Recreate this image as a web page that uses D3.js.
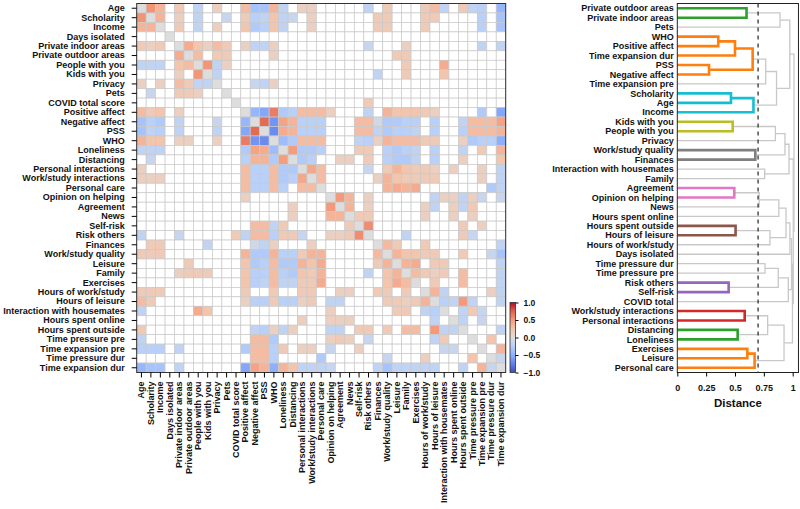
<!DOCTYPE html>
<html lang="en">

<head>
    <meta charset="UTF-8">
    <title>Correlation heatmap and dendrogram</title>
    <script src="https://d3js.org/d3.v7.min.js"></script>
    <style>
        body {
            margin: 0;
            background: #ffffff;
        }

        svg text {
            font-family: "Liberation Sans", Arial, sans-serif;
            font-weight: bold;
            fill: #111111;
        }
    </style>
</head>

<body>
    <div id="chart"></div>
    <script>
        // variables, in heatmap order
        const variables = ["Age", "Scholarity", "Income", "Days isolated", "Private indoor areas",
            "Private outdoor areas", "People with you", "Kids with you", "Privacy", "Pets",
            "COVID total score", "Positive affect", "Negative affect", "PSS", "WHO", "Loneliness",
            "Distancing", "Personal interactions", "Work/study interactions", "Personal care",
            "Opinion on helping", "Agreement", "News", "Self-risk", "Risk others", "Finances",
            "Work/study quality", "Leisure", "Family", "Exercises", "Hours of work/study",
            "Hours of leisure", "Interaction with housemates", "Hours spent online",
            "Hours spent outside", "Time pressure pre", "Time expansion pre", "Time pressure dur",
            "Time expansion dur"];

        // significant correlations (upper triangle, i < j), everything else is blank
        const corrPairs = [
            [0, 1, .53], [0, 2, .35], [0, 4, .2], [0, 6, -.2], [0, 8, .15], [0, 11, .3], [0, 12, -.35], [0, 13, -.35],
            [0, 14, .35], [0, 15, -.2], [0, 17, .15], [0, 18, .15], [0, 24, -.2], [0, 26, .2], [0, 30, .2], [0, 31, .3],
            [0, 32, -.2], [0, 34, .2], [0, 35, -.2], [0, 36, -.25], [0, 38, -.45],
            [1, 2, .35], [1, 4, .15], [1, 6, -.2], [1, 9, -.15], [1, 11, .2], [1, 12, -.25], [1, 13, -.2], [1, 14, .25],
            [1, 15, -.2], [1, 16, -.15], [1, 18, .15], [1, 25, .2], [1, 26, .2], [1, 30, .2], [1, 31, .2], [1, 36, -.25],
            [1, 38, -.35],
            [2, 4, .2], [2, 6, -.2], [2, 8, .15], [2, 11, .25], [2, 12, -.3], [2, 13, -.25], [2, 14, .25], [2, 15, -.2],
            [2, 18, .15], [2, 25, .2], [2, 26, .2], [2, 30, .2], [2, 36, -.25], [2, 38, -.35],
            [4, 5, .4], [4, 6, .25], [4, 7, .15], [4, 8, .3], [4, 9, .2], [4, 11, .15], [4, 12, -.2], [4, 13, -.2],
            [4, 14, .15], [4, 24, -.15], [4, 28, .15], [4, 36, -.2], [4, 38, -.2],
            [5, 6, .3], [5, 8, .2], [5, 9, .2], [5, 14, .15], [5, 27, .2], [5, 28, .2],
            [6, 7, .52], [6, 8, -.2], [6, 9, .15], [6, 28, .2], [6, 32, .4],
            [7, 8, -.2], [7, 25, -.2], [7, 28, .2], [7, 32, .25],
            [8, 12, -.15], [8, 13, -.2], [8, 14, .15],
            [10, 24, .2],
            [11, 12, -.45], [11, 13, -.55], [11, 14, .64], [11, 15, -.3], [11, 16, -.25], [11, 17, .3], [11, 18, .3],
            [11, 19, .3], [11, 20, .15], [11, 24, -.2], [11, 26, .35], [11, 27, .25], [11, 28, .25], [11, 29, .25],
            [11, 30, .2], [11, 31, .15], [11, 36, -.3], [11, 38, -.55],
            [12, 13, .72], [12, 14, -.65], [12, 15, .45], [12, 16, .35], [12, 17, -.25], [12, 18, -.25], [12, 19, -.25],
            [12, 23, .3], [12, 24, .3], [12, 25, -.1], [12, 26, -.3], [12, 27, -.3], [12, 28, -.25], [12, 29, -.25],
            [12, 31, -.25], [12, 34, -.2], [12, 35, .3], [12, 36, .3], [12, 37, .3], [12, 38, .45],
            [13, 14, -.7], [13, 15, .4], [13, 16, .35], [13, 17, -.25], [13, 18, -.25], [13, 19, -.25], [13, 23, .3],
            [13, 24, .3], [13, 25, -.2], [13, 26, -.3], [13, 27, -.25], [13, 28, -.25], [13, 29, -.2], [13, 31, -.25],
            [13, 34, -.25], [13, 35, .3], [13, 36, .3], [13, 37, .3], [13, 38, .35],
            [14, 15, -.4], [14, 16, -.3], [14, 17, .3], [14, 18, .3], [14, 19, .3], [14, 23, -.2], [14, 24, -.25],
            [14, 25, .15], [14, 26, .35], [14, 27, .3], [14, 28, .3], [14, 29, .3], [14, 30, .2], [14, 31, .2],
            [14, 34, .15], [14, 35, -.3], [14, 36, -.25], [14, 37, -.25], [14, 38, -.5],
            [15, 16, .48], [15, 17, -.3], [15, 18, -.3], [15, 19, -.25], [15, 23, .2], [15, 24, .2], [15, 26, -.25],
            [15, 27, -.3], [15, 28, -.25], [15, 29, -.2], [15, 31, -.25], [15, 34, -.2], [15, 36, .2], [15, 38, .35],
            [16, 17, -.3], [16, 18, -.25], [16, 21, .15], [16, 22, .15], [16, 24, .2], [16, 26, -.25], [16, 27, -.3],
            [16, 28, -.3], [16, 29, -.2], [16, 31, -.25], [16, 34, .15], [16, 38, .25],
            [17, 18, .42], [17, 19, .3], [17, 24, -.15], [17, 26, .2], [17, 27, .35], [17, 28, .25], [17, 29, .2],
            [17, 30, .2], [17, 31, .15], [17, 33, .15], [17, 36, .15], [17, 38, -.2],
            [18, 19, .3], [18, 25, .15], [18, 26, .35], [18, 27, .25], [18, 28, .2], [18, 29, .2], [18, 30, .2],
            [18, 31, .2], [18, 36, .15], [18, 38, -.2],
            [19, 26, .35], [19, 27, .4], [19, 28, .35], [19, 29, .4], [19, 37, -.3], [19, 38, -.2],
            [20, 21, .5], [20, 22, .35], [20, 24, .15], [20, 31, -.2], [20, 32, .15], [20, 33, .15], [20, 34, -.2],
            [20, 35, .15], [20, 36, -.15], [20, 38, -.15],
            [21, 22, .35], [21, 24, .15], [21, 30, .15], [21, 31, -.2], [21, 33, .15], [21, 34, -.2], [21, 35, .2],
            [22, 23, .2], [22, 24, .2], [22, 30, .15], [22, 33, .15], [22, 35, .15],
            [23, 24, .56], [23, 34, .2], [23, 36, .15],
            [24, 28, -.2], [24, 34, .2], [24, 35, -.15],
            [25, 26, .32], [25, 27, .2], [25, 30, .2], [25, 38, -.2],
            [26, 27, .35], [26, 28, .25], [26, 29, .25], [26, 30, .2], [26, 31, .2], [26, 34, .2], [26, 37, -.15],
            [26, 38, -.35],
            [27, 28, .35], [27, 29, .4], [27, 31, .2], [27, 32, .2], [27, 38, -.2],
            [28, 29, .3], [28, 30, .2], [28, 31, .15], [28, 32, .2], [28, 34, .3], [28, 38, -.2],
            [29, 31, .2], [29, 34, .3], [29, 38, -.2],
            [30, 31, .35], [30, 32, -.2], [30, 37, .15], [30, 38, -.2],
            [31, 32, -.25], [31, 33, -.2], [31, 34, .5], [31, 35, -.2], [31, 38, -.2],
            [32, 34, -.2], [32, 35, .2], [32, 36, -.15],
            [33, 34, -.2], [33, 36, -.15],
            [34, 38, -.2],
            [35, 37, .25],
            [36, 38, .35],
            [37, 38, -.15]
        ];

        // dendrogram leaves, top to bottom
        const leafLabels = ["Private outdoor areas", "Private indoor areas", "Pets", "WHO", "Positive affect",
            "Time expansion dur", "PSS", "Negative affect", "Time expansion pre", "Scholarity", "Age", "Income",
            "Kids with you", "People with you", "Privacy", "Work/study quality", "Finances",
            "Interaction with housemates", "Family", "Agreement", "Opinion on helping", "News",
            "Hours spent online", "Hours spent outside", "Hours of leisure", "Hours of work/study",
            "Days isolated", "Time pressure dur", "Time pressure pre", "Risk others", "Self-risk",
            "COVID total", "Work/study interactions", "Personal interactions", "Distancing", "Loneliness",
            "Exercises", "Leisure", "Personal care"];

        // merges: [child a, child b, distance, cluster colour]; ids 0-38 are leaves, merge k gets id 39 + k
        const merges = [
            [0, 1, 0.60, "#2ca02c"], [39, 2, 0.89, null],
            [3, 4, 0.355, "#ff7f0e"], [41, 5, 0.50, "#ff7f0e"], [6, 7, 0.275, "#ff7f0e"], [42, 43, 0.653, "#ff7f0e"],
            [44, 8, 0.766, null],
            [9, 10, 0.465, "#17becf"], [46, 11, 0.66, "#17becf"],
            [45, 47, 0.86, null], [40, 48, 0.975, null],
            [12, 13, 0.48, "#bcbd22"], [50, 14, 0.85, null],
            [15, 16, 0.676, "#7f7f7f"], [51, 52, 0.933, null],
            [17, 18, 0.757, null], [53, 54, 0.968, null],
            [19, 20, 0.494, "#e377c2"], [56, 21, 0.71, null], [57, 22, 0.88, null],
            [23, 24, 0.505, "#8c564b"], [59, 25, 0.803, null], [58, 60, 0.942, null], [61, 26, 0.976, null],
            [27, 28, 0.76, null], [29, 30, 0.445, "#9467bd"], [63, 64, 0.875, null], [65, 31, 0.962, null],
            [32, 33, 0.584, "#d62728"], [34, 35, 0.523, "#2ca02c"], [67, 68, 0.783, null],
            [36, 37, 0.607, "#ff7f0e"], [70, 38, 0.67, "#ff7f0e"], [69, 71, 0.925, null],
            [62, 66, 0.99, null], [73, 72, 0.998, null], [55, 74, 1.005, null], [49, 75, 1.011, null]
        ];

        const threshold = 0.7;
        const distanceTicks = [0, 0.25, 0.5, 0.75, 1];
        const colorbarTicks = [-1, -0.5, 0, 0.5, 1];

        const width = 800;
        const height = 509;

        const svg = d3.select("#chart").append("svg")
            .attr("width", width)
            .attr("height", height);

        // coolwarm colour map
        const color = d3.scaleLinear()
            .domain([-1, -0.75, -0.5, -0.25, 0, 0.25, 0.5, 0.75, 1])
            .range(["#3b4cc0", "#6282ea", "#8db0fe", "#b9d0f9", "#dddddd", "#f4c5ad", "#f49a7b", "#e0654f", "#b40426"])
            .interpolate(d3.interpolateRgb)
            .clamp(true);

        // ---------- heatmap ----------
        const hm = { left: 136.7, top: 3.5, size: 369 };
        const x = d3.scaleBand().domain(variables).range([hm.left, hm.left + hm.size]);
        const y = d3.scaleBand().domain(variables).range([hm.top, hm.top + hm.size]);

        const matrix = variables.map((_, i) => variables.map((_, j) => i === j ? 0 : null));
        corrPairs.forEach(([i, j, v]) => { matrix[i][j] = v; matrix[j][i] = v; });

        const cells = [];
        matrix.forEach((row, i) => row.forEach((v, j) => cells.push({ r: variables[i], c: variables[j], v })));

        svg.append("g")
            .selectAll("rect")
            .data(cells)
            .join("rect")
            .attr("x", d => x(d.c))
            .attr("y", d => y(d.r))
            .attr("width", x.bandwidth())
            .attr("height", y.bandwidth())
            .attr("fill", d => d.v === null ? "#ffffff" : color(d.v))
            .attr("stroke", "#c9c9c9")
            .attr("stroke-width", 0.7);

        svg.append("rect")
            .attr("x", hm.left).attr("y", hm.top)
            .attr("width", hm.size).attr("height", hm.size)
            .attr("fill", "none").attr("stroke", "#333").attr("stroke-width", 1);

        const yAxis = svg.append("g")
            .attr("transform", `translate(${hm.left},0)`)
            .call(d3.axisLeft(y).tickSize(5).tickPadding(7));
        yAxis.select(".domain").remove();
        yAxis.selectAll("text").style("font-size", "9px");

        const xAxis = svg.append("g")
            .attr("transform", `translate(0,${hm.top + hm.size})`)
            .call(d3.axisBottom(x).tickSize(5));
        xAxis.select(".domain").remove();
        xAxis.selectAll("text")
            .style("font-size", "9px")
            .attr("transform", "rotate(-90)")
            .attr("text-anchor", "end")
            .attr("x", -9)
            .attr("y", 0)
            .attr("dy", "0.33em");

        // colour bar
        const cb = { x: 510, y: 302.5, w: 5.5, h: 70 };
        const grad = svg.append("defs").append("linearGradient")
            .attr("id", "cbar").attr("x1", 0).attr("y1", 1).attr("x2", 0).attr("y2", 0);
        grad.selectAll("stop")
            .data(d3.range(0, 1.0001, 0.05))
            .join("stop")
            .attr("offset", d => d)
            .attr("stop-color", d => color(d * 2 - 1));
        svg.append("rect")
            .attr("x", cb.x).attr("y", cb.y).attr("width", cb.w).attr("height", cb.h)
            .attr("fill", "url(#cbar)").attr("stroke", "#333").attr("stroke-width", 0.8);
        const cbScale = d3.scaleLinear().domain([-1, 1]).range([cb.y + cb.h, cb.y]);
        const cbAxis = svg.append("g")
            .attr("transform", `translate(${cb.x + cb.w},0)`)
            .call(d3.axisRight(cbScale).tickValues(colorbarTicks).tickFormat(d3.format(".1f")).tickSize(3).tickPadding(5));
        cbAxis.select(".domain").remove();
        cbAxis.selectAll("text").style("font-size", "8.5px");

        // ---------- dendrogram ----------
        const xD = d3.scaleLinear().domain([0, 1]).range([677.3, 792.7]);
        const yD = d3.scaleBand().domain(d3.range(leafLabels.length)).range([hm.top, hm.top + hm.size]);

        const nodes = leafLabels.map((_, i) => ({ h: 0, y: yD(i) + yD.bandwidth() / 2 }));
        merges.forEach(([a, b, h]) => nodes.push({ h, y: (nodes[a].y + nodes[b].y) / 2 }));

        const links = svg.append("g").attr("fill", "none");
        // grey links first so coloured ones sit on top
        const ordered = merges.map((m, k) => m).sort((m1, m2) => (m1[3] ? 1 : 0) - (m2[3] ? 1 : 0));
        ordered.forEach(([a, b, h, c]) => {
            const na = nodes[a], nb = nodes[b];
            links.append("path")
                .attr("d", `M${xD(na.h)},${na.y}H${xD(h)}V${nb.y}H${xD(nb.h)}`)
                .attr("stroke", c || "#c8c8c8")
                .attr("stroke-width", c ? 2.6 : 1.3);
        });

        svg.append("line")
            .attr("x1", xD(threshold)).attr("x2", xD(threshold))
            .attr("y1", hm.top).attr("y2", hm.top + hm.size)
            .attr("stroke", "#333").attr("stroke-width", 1.3)
            .attr("stroke-dasharray", "4,4");

        svg.append("rect")
            .attr("x", xD(0)).attr("y", hm.top)
            .attr("width", xD(1.05) - xD(0)).attr("height", hm.size)
            .attr("fill", "none").attr("stroke", "#222").attr("stroke-width", 1);

        svg.append("g")
            .selectAll("text")
            .data(leafLabels)
            .join("text")
            .attr("x", xD(0) - 3.5)
            .attr("y", (d, i) => yD(i) + yD.bandwidth() / 2)
            .attr("dy", "0.35em")
            .attr("text-anchor", "end")
            .style("font-size", "9px")
            .text(d => d);

        const dAxis = svg.append("g")
            .attr("transform", `translate(0,${hm.top + hm.size})`)
            .call(d3.axisBottom(xD).tickValues(distanceTicks).tickFormat(d => String(d)).tickSize(4).tickPadding(8));
        dAxis.select(".domain").remove();
        dAxis.selectAll("text").style("font-size", "9px");

        svg.append("text")
            .attr("x", (xD(0) + xD(1.05)) / 2)
            .attr("y", 407)
            .attr("text-anchor", "middle")
            .style("font-size", "11.5px")
            .text("Distance");
    </script>
</body>

</html>
